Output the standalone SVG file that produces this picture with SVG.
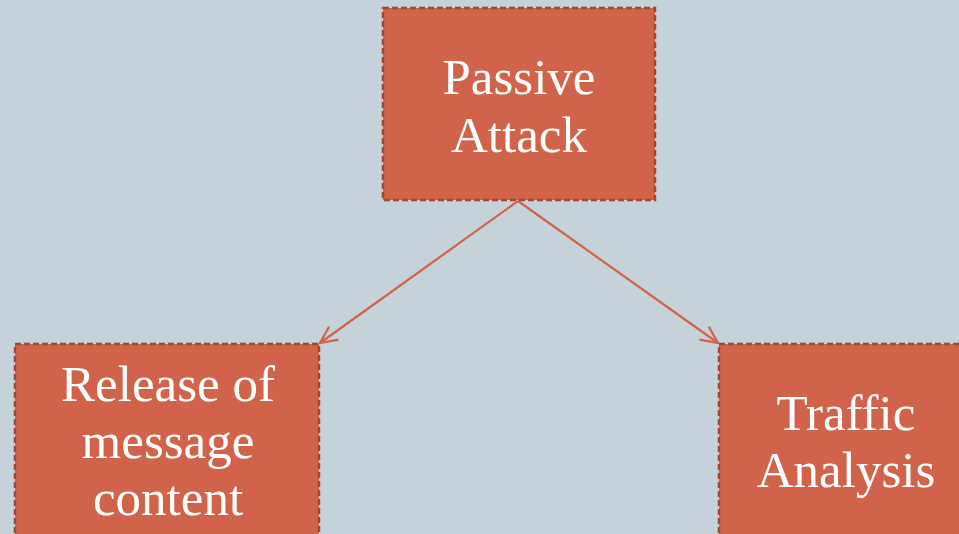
<svg xmlns="http://www.w3.org/2000/svg" width="959" height="534" viewBox="0 0 959 534">
<style>
.box{fill:#d1634a;stroke:#a24634;stroke-width:2.5;stroke-dasharray:6 3}
.t{font-family:"Liberation Serif","DejaVu Serif",serif;font-size:51px;fill:#fff;text-anchor:middle}
.c{stroke:#d1634a;stroke-width:2.2;fill:none}
</style>
<defs>
<marker id="ah" markerWidth="22" markerHeight="22" refX="18" refY="9" orient="auto" markerUnits="userSpaceOnUse">
<path d="M1,1 L18,9 L1,17" fill="none" stroke="#d1634a" stroke-width="2.2"/>
</marker>
</defs>
<rect width="959" height="534" fill="#c6d2d9"/>
<g id="connectors">
<line class="c" x1="518" y1="201" x2="320" y2="343" marker-end="url(#ah)"/>
<line class="c" x1="518" y1="201" x2="718" y2="343" marker-end="url(#ah)"/>
</g>
<g id="passive">
<rect class="box" x="383" y="8" width="272" height="192"/>
<text class="t" x="519" y="94">Passive</text>
<text class="t" x="519" y="152">Attack</text>
</g>
<g id="release">
<rect class="box" x="15" y="344" width="304" height="200"/>
<text class="t" x="168" y="401">Release of</text>
<text class="t" x="168" y="458">message</text>
<text class="t" x="168" y="515">content</text>
</g>
<g id="traffic">
<rect class="box" x="719" y="344" width="250" height="200"/>
<text class="t" x="846" y="430">Traffic</text>
<text class="t" x="846" y="487">Analysis</text>
</g>
</svg>
